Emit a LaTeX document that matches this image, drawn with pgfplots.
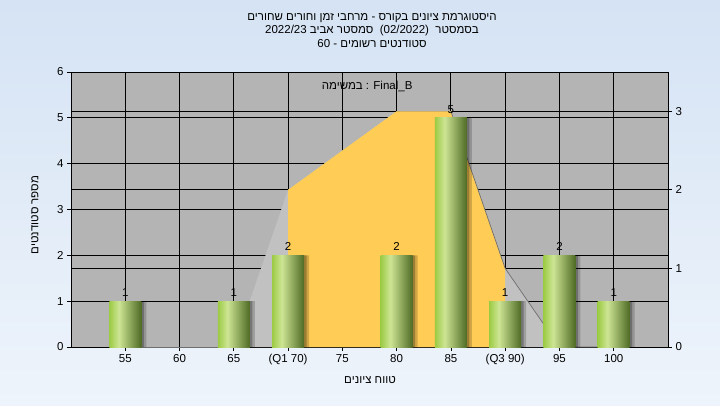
\documentclass[border=0pt]{standalone}
\usepackage{fontspec}
\setmainfont{Liberation Sans}
\newfontfamily\heb[Script=Hebrew]{Liberation Sans}
\TeXXeTstate=1
\usepackage{pgfplots}
\pgfplotsset{compat=1.18}
\definecolor{bgtop}{HTML}{D5E3F4}
\definecolor{bgbot}{HTML}{EEF4FB}
\definecolor{plotgrey}{HTML}{B4B4B4}
\definecolor{areagrey}{HTML}{C1C1C1}
\definecolor{linegrey}{HTML}{6E6E6E}
\definecolor{areayellow}{HTML}{FFCC55}
\definecolor{barA}{HTML}{9CCB45}
\definecolor{barB}{HTML}{CDE594}
\definecolor{barC}{HTML}{4E6A24}
\pgfdeclarehorizontalshading{barshade}{100bp}{color(0bp)=(barA); color(25bp)=(barA); color(40bp)=(barB); color(75bp)=(barC); color(100bp)=(barC)}
\newcommand{\fsz}{\fontsize{11.5}{13}\selectfont}
\pgfplotsset{
  common/.style={
    at={(71pt,58pt)}, anchor=south west, scale only axis,
    width=597pt, height=275pt,
    xmin=-1, xmax=10,
    /pgf/number format/assume math mode=true,
    tick label style={font=\fsz, text=black},
    tick align=outside,
    major tick length=4pt,
  },
  gbar/.style={ybar, bar width=32pt, bar shift=0pt, shading=barshade, draw=none,
    nodes near coords, nodes near coords style={font=\fsz, text=black, anchor=south, yshift=1pt}},
}
\begin{document}
\begin{tikzpicture}[x=1pt,y=1pt]
\shade[top color=bgtop, bottom color=bgbot] (0,0) rectangle (720,405);
% base axis: background, grid, left and bottom ticks
\begin{axis}[common,
  ymin=0, ymax=6, ytick={0,1,2,3,4,5,6},
  xtick={0,...,9},
  xticklabels={55,60,65,(Q1 70),75,80,85,(Q3 90),95,100},
  axis background/.style={fill=plotgrey},
  grid=major, major grid style={black, line width=1pt},
  axis line style={black, line width=1pt},
  tick style={black, line width=0.8pt},
  ytick pos=left, xtick pos=bottom,
]
\addplot[draw=none] coordinates {(0,0)};
\end{axis}
% right axis: its grid lines and the distribution areas
\begin{axis}[common,
  ymin=0, ymax=3.5, ytick={0,1,2,3},
  axis y line*=right, axis x line=none,
  ymajorgrids, major grid style={black, line width=1pt},
  axis line style={black, line width=1pt},
  tick style={black, line width=0.8pt},
]
\addplot[fill=areagrey, draw=none] coordinates {(0,0) (1,0) (2,0) (3,2) (4,2.5) (5,3) (6,3) (7,1) (8,0) (9,0)} \closedcycle;
\addplot[fill=areayellow, draw=none] coordinates {(3,2) (4,2.5) (5,3) (6,3) (7,1)} \closedcycle;
\addplot[draw=linegrey, line width=0.7pt] coordinates {(6,3) (7,1) (8,0) (9,0)};
\addplot[draw=linegrey, line width=0.7pt] coordinates {(0,0) (2,0)};
\end{axis}
% bars
\begin{axis}[common, ymin=0, ymax=6, hide axis]
\addplot[ybar, bar width=32pt, bar shift=5pt, fill=black, draw=none, opacity=0.18] coordinates {(0,1) (2,1) (3,2) (5,2) (6,5) (7,1) (8,2) (9,1)};
\addplot[ybar, bar width=32pt, bar shift=2.5pt, fill=black, draw=none, opacity=0.25] coordinates {(0,1) (2,1) (3,2) (5,2) (6,5) (7,1) (8,2) (9,1)};
\addplot[gbar] coordinates {(0,1)};
\addplot[gbar] coordinates {(2,1)};
\addplot[gbar] coordinates {(3,2)};
\addplot[gbar] coordinates {(5,2)};
\addplot[gbar] coordinates {(6,5)};
\addplot[gbar] coordinates {(7,1)};
\addplot[gbar] coordinates {(8,2)};
\addplot[gbar] coordinates {(9,1)};
\node[font=\fsz, text=black] at (rel axis cs:0.496,0.949) {{\heb\beginR במשימה\endR} : Final\_B};
\end{axis}
% titles and axis labels
\node[font=\fsz, text=black] at (372,387) {\heb\beginR היסטוגרמת ציונים בקורס - מרחבי זמן וחורים שחורים\endR};
\node[font=\fsz, text=black] at (372,374) {\heb\beginR בסמסטר\ \ \beginL(02/2022)\endL{}\ \ סמסטר אביב \beginL 2022/23\endL\endR};
\node[font=\fsz, text=black] at (372,361) {\heb\beginR סטודנטים רשומים - \beginL 60\endL\endR};
\node[font=\fsz, text=black] at (370,25) {\heb\beginR טווח ציונים\endR};
\node[font=\fsz, text=black, rotate=90] at (35,190) {\heb\beginR מספר סטודנטים\endR};
\end{tikzpicture}
\end{document}
